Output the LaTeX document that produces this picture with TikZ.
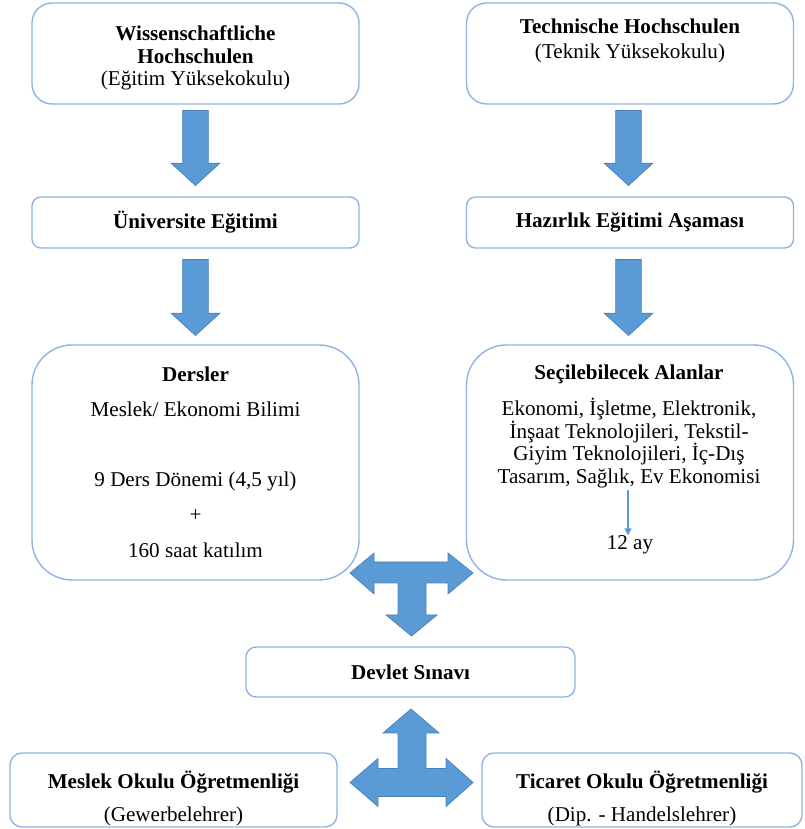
\documentclass[tikz,border=0pt]{standalone}
\usepackage{fontspec}
\setmainfont{Liberation Serif}
\usetikzlibrary{shapes.arrows,arrows.meta}
\definecolor{boxline}{RGB}{141,180,226}
\definecolor{arrowfill}{RGB}{91,155,213}
\definecolor{arrowline}{RGB}{72,128,188}
\tikzset{
  txt/.style={font=\fontsize{12}{12.8}\selectfont, align=center, inner sep=0pt},
  box/.style={txt, draw=boxline, line width=0.8pt, minimum width=6.54cm},
  downarrow/.style={single arrow, shape border rotate=270, fill=arrowfill, draw=arrowline,
    line width=0.4pt, minimum width=0.97cm, single arrow head extend=0.23cm,
    single arrow tip angle=95, inner sep=0.25cm, anchor=tip},
  blockarrow/.style={fill=arrowfill, draw=arrowline, line width=0.4pt, line join=miter}
}
\begin{document}
\begin{tikzpicture}
\useasboundingbox (0,0) rectangle (16.08,16.58);
% top row
\node[box, minimum height=2.02cm, rounded corners=0.4cm] (wiss) at (3.91,15.51)
  {\rule{0pt}{0.48cm}\textbf{Wissenschaftliche}\\\textbf{Hochschulen}\\(Eğitim Yüksekokulu)};
\node[box, minimum height=2.02cm, rounded corners=0.4cm] (tech) at (12.60,15.51) {};
\node[txt] (techtext) at (12.60,15.77) {\textbf{Technische Hochschulen}\\[0.05cm](Teknik Yüksekokulu)};
\node[downarrow, minimum height=1.50cm] (wissdown) at (3.91,12.86) {};
\node[downarrow, minimum height=1.50cm] (techdown) at (12.57,12.86) {};
% second row
\node[box, minimum height=1.02cm, rounded corners=0.18cm] (uni) at (3.91,12.13)
  {\raisebox{3pt}{\textbf{Üniversite Eğitimi}}};
\node[box, minimum height=1.02cm, rounded corners=0.18cm] (hazir) at (12.60,12.13)
  {\raisebox{3pt}{\textbf{Hazırlık Eğitimi Aşaması}}};
\node[downarrow, minimum height=1.52cm] (unidown) at (3.91,9.86) {};
\node[downarrow, minimum height=1.52cm] (hazirdown) at (12.57,9.86) {};
% third row
\node[box, minimum height=4.70cm, rounded corners=0.8cm] (dersler) at (3.91,7.33)
  {\textbf{Dersler}\\[0.25cm]Meslek/ Ekonomi Bilimi\\[0.95cm]9 Ders Dönemi (4,5 yıl)\\[0.25cm]+\\[0.27cm]160 saat katılım};
\node[box, minimum height=4.70cm, rounded corners=0.8cm] (secil) at (12.60,7.33) {};
\node[txt] (alanlar) at (12.58,8.05)
  {\textbf{Seçilebilecek Alanlar}\\[0.27cm]Ekonomi, İşletme, Elektronik,\\İnşaat Teknolojileri, Tekstil-\\Giyim Teknolojileri, İç-Dış\\Tasarım, Sağlık, Ev Ekonomisi};
\node[txt] (ay) at (12.60,5.68) {12 ay};
\draw[arrowfill, line width=0.7pt, -{Triangle[length=0.14cm,width=0.14cm]}]
  (alanlar.south -| 12.56,0) ++(0,-0.04) coordinate (aytop) -- (ay.north -| aytop);
% T arrow into the exam
\draw[blockarrow] (7.00,5.12) -- (7.48,5.52) -- (7.48,5.34) -- (8.96,5.34) -- (8.96,5.52)
  -- (9.46,5.12) -- (8.96,4.70) -- (8.96,4.92) -- (8.52,4.92) -- (8.52,4.28) -- (8.74,4.28)
  -- (8.23,3.86) -- (7.72,4.28) -- (7.96,4.28) -- (7.96,4.92) -- (7.48,4.92) -- (7.48,4.70) -- cycle;
\node[box, minimum width=6.58cm, minimum height=1.0cm, rounded corners=0.2cm] (devlet) at (8.21,3.14)
  {\textbf{Devlet Sınavı}};
% T arrow out of the exam
\draw[blockarrow] (8.22,2.40) -- (8.78,1.92) -- (8.52,1.92) -- (8.52,1.21) -- (8.92,1.21) -- (8.92,1.41)
  -- (9.46,0.93) -- (8.92,0.45) -- (8.92,0.65) -- (7.56,0.65) -- (7.56,0.45) -- (7.00,0.93)
  -- (7.56,1.41) -- (7.56,1.21) -- (7.96,1.21) -- (7.96,1.92) -- (7.66,1.92) -- cycle;
% bottom row
\node[box, minimum height=1.48cm, rounded corners=0.24cm] (meslek) at (3.47,0.78)
  {\rule{0pt}{0.68cm}\textbf{Meslek Okulu Öğretmenliği}\\[0.2cm](Gewerbelehrer)};
\node[box, minimum width=6.40cm, minimum height=1.48cm, rounded corners=0.24cm] (ticaret) at (12.84,0.78)
  {\rule{0pt}{0.68cm}\textbf{Ticaret Okulu Öğretmenliği}\\[0.2cm](Dip. - Handelslehrer)};
\end{tikzpicture}
\end{document}
